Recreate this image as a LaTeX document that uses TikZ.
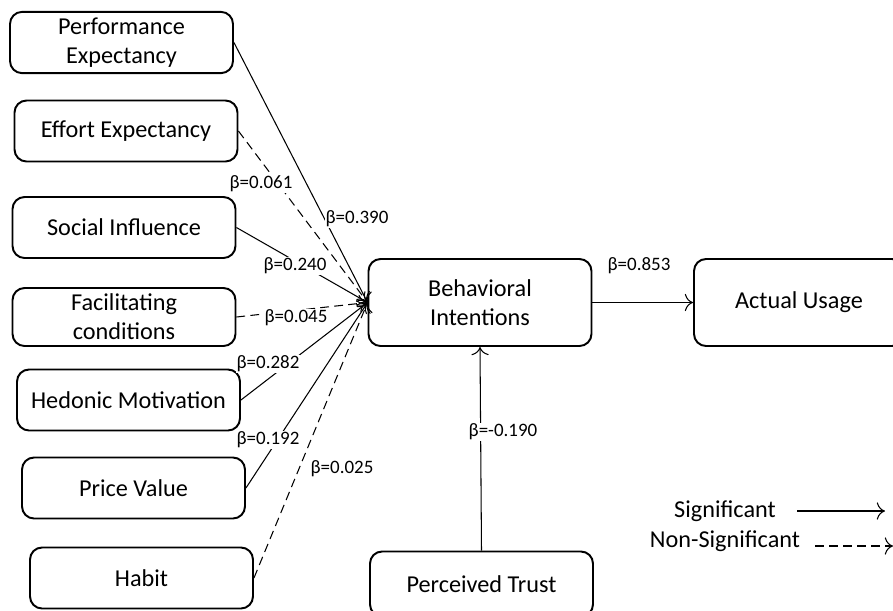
\documentclass[tikz,border=0pt]{standalone}
\usepackage{fontspec}
\setmainfont{Carlito}
\usetikzlibrary{arrows.meta}
\begin{document}
\begin{tikzpicture}[x=0.02cm,y=-0.02cm]
\tikzset{boite/.style={draw, line width=1.1pt, rounded corners=0.24cm, align=center,
    minimum width=4.46cm, minimum height=1.22cm, font=\fontsize{13.8}{16.5}\selectfont},
  coef/.style={fill=white, inner sep=0.5pt, font=\fontsize{10.8}{12}\selectfont},
  lien/.style={-{To[scale=1.6]}, line width=0.6pt},
  lienns/.style={-{To[scale=1.6]}, line width=0.6pt, dash pattern=on 5pt off 3pt}}
\useasboundingbox (0,0) rectangle (893,610);
\node[boite] (PE) at (121.5,42.5) {Performance\\Expectancy};
\node[boite] (EE) at (126,131) {Effort Expectancy};
\node[boite] (SI) at (124,227.5) {Social Influence};
\node[boite, minimum height=1.16cm] (FC) at (124,317) {Facilitating\\conditions};
\node[boite] (HM) at (128.5,400) {Hedonic Motivation};
\node[boite] (PV) at (133.5,488) {Price Value};
\node[boite] (HB) at (141.5,578) {Habit};
\node[boite, minimum height=1.74cm] (BI) at (480,302.5) {Behavioral\\Intentions};
\node[boite, minimum width=4.2cm, minimum height=1.74cm] (AU) at (799,302.5) {Actual Usage};
\node[boite, minimum height=1.3cm] (PT) at (481.5,584) {Perceived Trust};
\draw[lien] (PE.east) -- (BI.west);
\draw[lienns] (EE.east) -- (BI.west);
\draw[lien] (SI.east) -- (BI.west);
\draw[lienns] (FC.east) -- (BI.west);
\draw[lien] (HM.east) -- (BI.west);
\draw[lien] (PV.east) -- (BI.west);
\draw[lienns] (HB.east) -- (BI.west);
\draw[lien] (BI.east) -- (AU.west);
\draw[lien] (PT.north) -- (BI.south);
\node[coef] (c1) at (261,184) {β=0.061};
\node[coef] (c2) at (357,219) {β=0.390};
\node[coef] (c3) at (295,266) {β=0.240};
\node[coef] (c4) at (296,318) {β=0.045};
\node[coef] (c5) at (268,364) {β=0.282};
\node[coef] (c6) at (268,440) {β=0.192};
\node[coef] (c7) at (342,469) {β=0.025};
\node[coef] (c8) at (639,266) {β=0.853};
\node[coef] (c9) at (503,432) {β=-0.190};
% legende
\node[font=\fontsize{13.8}{16.5}\selectfont] (sig) at (725,511) {Significant};
\node[font=\fontsize{13.8}{16.5}\selectfont] (nsig) at (725,541) {Non-Significant};
\coordinate (s1) at (797,511);
\coordinate (s2) at (885,511);
\coordinate (n1) at (815,546);
\coordinate (n2) at (893,546);
\draw[lien] (s1) -- (s2);
\draw[lienns] (n1) -- (n2);
\end{tikzpicture}
\end{document}
